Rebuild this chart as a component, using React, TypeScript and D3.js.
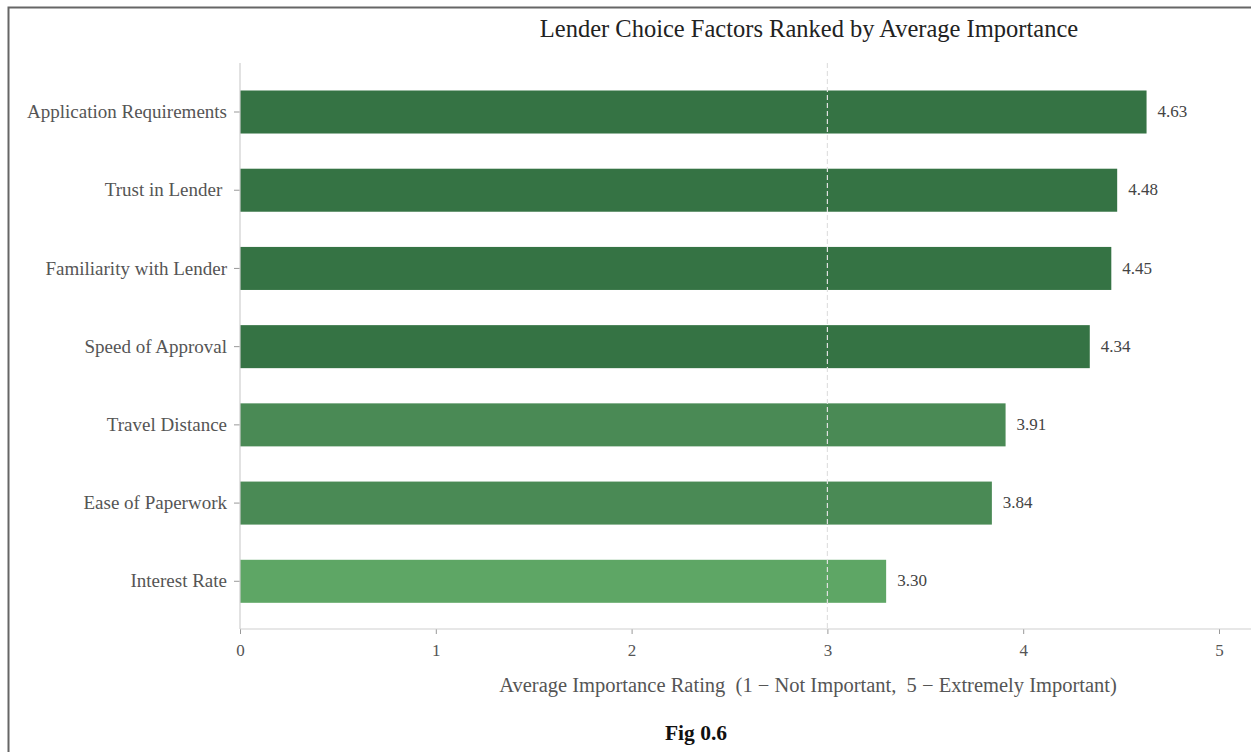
import * as d3 from "d3";
import React from "react";

const factors = [
  "Application Requirements",
  "Trust in Lender ",
  "Familiarity with Lender",
  "Speed of Approval",
  "Travel Distance",
  "Ease of Paperwork",
  "Interest Rate",
];
const ratings = [4.63, 4.48, 4.45, 4.34, 3.91, 3.84, 3.3];
const xTicks = [0, 1, 2, 3, 4, 5];

const W = 1251;
const H = 752;

function barColor(v: number) {
  if (v >= 4.2) return "#357344";
  if (v >= 3.5) return "#4a8a55";
  return "#5ea665";
}

export default function App() {
  const svgRef = React.useRef<SVGSVGElement>(null);

  React.useEffect(() => {
    const svg = d3.select(svgRef.current);
    svg.selectAll("*").remove();

    const left = 240;
    const axisY = 629;
    const spineTop = 63;
    const font = "'Liberation Serif', 'Times New Roman', serif";

    const x = d3.scaleLinear().domain([0, 5]).range([left, 1219]);
    const y = d3
      .scaleBand()
      .domain(factors)
      .range([55.3, 638])
      .paddingInner(0.45)
      .paddingOuter(0.45);

    // frame
    svg
      .append("path")
      .attr("d", `M8.5,${H} L8.5,7.5 L${W},7.5`)
      .attr("fill", "none")
      .attr("stroke", "#666")
      .attr("stroke-width", 2);

    // bars
    svg
      .selectAll(".bar")
      .data(factors)
      .enter()
      .append("rect")
      .attr("x", x(0))
      .attr("y", (d) => y(d) ?? 0)
      .attr("width", (d, i) => x(ratings[i]) - x(0))
      .attr("height", y.bandwidth())
      .attr("fill", (d, i) => barColor(ratings[i]));

    // reference line at 3
    svg
      .append("line")
      .attr("x1", x(3))
      .attr("x2", x(3))
      .attr("y1", spineTop)
      .attr("y2", axisY)
      .attr("stroke", "#e0e0e0")
      .attr("stroke-width", 1.2)
      .attr("stroke-dasharray", "5,3");

    // value labels
    svg
      .selectAll(".val")
      .data(factors)
      .enter()
      .append("text")
      .attr("x", (d, i) => x(ratings[i]) + 11)
      .attr("y", (d) => (y(d) ?? 0) + y.bandwidth() / 2)
      .attr("dy", "0.3em")
      .attr("font-family", font)
      .attr("font-size", 17)
      .attr("fill", "#444")
      .text((d, i) => ratings[i].toFixed(2));

    // y axis
    const yAxis = svg
      .append("g")
      .attr("transform", `translate(${left},0)`)
      .call(d3.axisLeft(y).tickSize(6).tickPadding(7).tickSizeOuter(0));
    yAxis.select(".domain").remove();
    yAxis.selectAll(".tick line").attr("stroke", "#999");
    yAxis
      .selectAll("text")
      .attr("font-family", font)
      .attr("font-size", 19)
      .attr("fill", "#555")
      .style("white-space", "pre");
    svg
      .append("line")
      .attr("x1", left)
      .attr("x2", left)
      .attr("y1", spineTop)
      .attr("y2", axisY)
      .attr("stroke", "#cfcfcf")
      .attr("stroke-width", 1.2);

    // x axis
    const xAxis = svg
      .append("g")
      .attr("transform", `translate(0,${axisY})`)
      .call(
        d3
          .axisBottom(x)
          .tickValues(xTicks)
          .tickFormat(d3.format("d"))
          .tickSize(5)
          .tickPadding(10)
          .tickSizeOuter(0)
      );
    xAxis.select(".domain").remove();
    xAxis.selectAll(".tick line").attr("stroke", "#999");
    xAxis
      .selectAll("text")
      .attr("font-family", font)
      .attr("font-size", 17)
      .attr("fill", "#555");
    svg
      .append("line")
      .attr("x1", left)
      .attr("x2", W)
      .attr("y1", axisY)
      .attr("y2", axisY)
      .attr("stroke", "#cfcfcf")
      .attr("stroke-width", 1.2);

    // title
    svg
      .append("text")
      .attr("x", 809)
      .attr("y", 37)
      .attr("text-anchor", "middle")
      .attr("font-family", font)
      .attr("font-size", 24.5)
      .attr("fill", "#222")
      .text("Lender Choice Factors Ranked by Average Importance");

    // x label
    svg
      .append("text")
      .attr("x", 808)
      .attr("y", 692)
      .attr("text-anchor", "middle")
      .attr("font-family", font)
      .attr("font-size", 20.5)
      .attr("fill", "#555")
      .style("white-space", "pre")
      .text("Average Importance Rating  (1 \u2212 Not Important,  5 \u2212 Extremely Important)");

    // figure caption
    svg
      .append("text")
      .attr("x", 696)
      .attr("y", 740)
      .attr("text-anchor", "middle")
      .attr("font-family", font)
      .attr("font-size", 21.5)
      .attr("font-weight", "bold")
      .attr("fill", "#111")
      .text("Fig 0.6");
  }, []);

  return (
    <svg
      ref={svgRef}
      width={W}
      height={H}
      viewBox={`0 0 ${W} ${H}`}
      style={{ position: "absolute", left: 0, top: 0, background: "#fff" }}
    ></svg>
  );
}
